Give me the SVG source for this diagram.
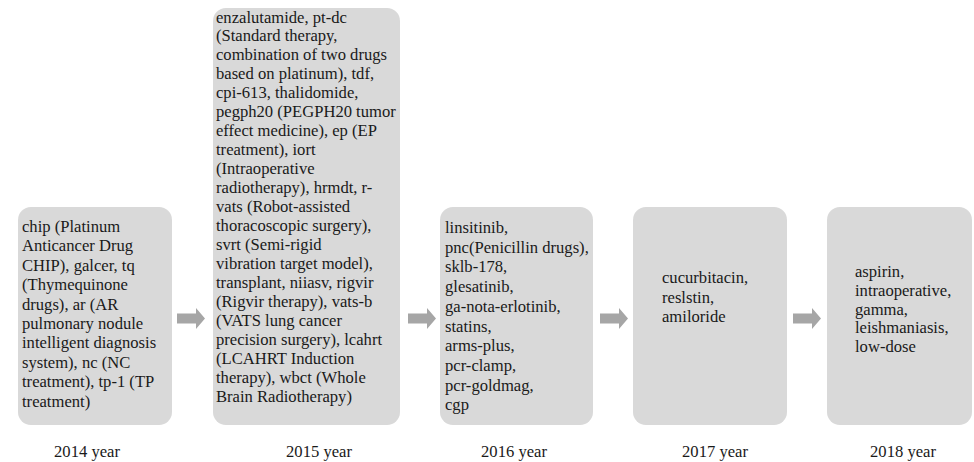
<svg xmlns="http://www.w3.org/2000/svg" width="974" height="462" viewBox="0 0 974 462">
<style>
.box{fill:#d9d9d9;}
.arr{fill:#a6a6a6;}
text{font-family:"Liberation Serif","Times New Roman",serif;font-size:16.6px;fill:#1a1a1a;}
.yr{text-anchor:middle;}
</style>
<defs>
<path id="arrow" d="M0,-5 H19 V-10.5 L28,0 L19,10.5 V5 H0 Z"/>
</defs>
<rect width="974" height="462" fill="#ffffff"/>
<g id="node-2014">
<rect class="box" x="18" y="207" width="154" height="218" rx="13"/>
<text x="22" y="232">chip (Platinum</text>
<text x="22" y="251.4">Anticancer Drug</text>
<text x="22" y="270.8">CHIP), galcer, tq</text>
<text x="22" y="290.2">(Thymequinone</text>
<text x="22" y="309.6">drugs), ar (AR</text>
<text x="22" y="329">pulmonary nodule</text>
<text x="22" y="348.4">intelligent diagnosis</text>
<text x="22" y="367.8">system), nc (NC</text>
<text x="22" y="387.2">treatment), tp-1 (TP</text>
<text x="22" y="406.6">treatment)</text>
<text class="yr" x="87" y="457">2014 year</text>
</g>
<g id="node-2015">
<rect class="box" x="213" y="8" width="187" height="417" rx="13"/>
<text x="216" y="22.5">enzalutamide, pt-dc</text>
<text x="216" y="41.45">(Standard therapy,</text>
<text x="216" y="60.4">combination of two drugs</text>
<text x="216" y="79.35">based on platinum), tdf,</text>
<text x="216" y="98.3">cpi-613, thalidomide,</text>
<text x="216" y="117.25">pegph20 (PEGPH20 tumor</text>
<text x="216" y="136.2">effect medicine), ep (EP</text>
<text x="216" y="155.15">treatment), iort</text>
<text x="216" y="174.1">(Intraoperative</text>
<text x="216" y="193.05">radiotherapy), hrmdt, r-</text>
<text x="216" y="212">vats (Robot-assisted</text>
<text x="216" y="230.95">thoracoscopic surgery),</text>
<text x="216" y="249.9">svrt (Semi-rigid</text>
<text x="216" y="268.85">vibration target model),</text>
<text x="216" y="287.8">transplant, niiasv, rigvir</text>
<text x="216" y="306.75">(Rigvir therapy), vats-b</text>
<text x="216" y="325.7">(VATS lung cancer</text>
<text x="216" y="344.65">precision surgery), lcahrt</text>
<text x="216" y="363.6">(LCAHRT Induction</text>
<text x="216" y="382.55">therapy), wbct (Whole</text>
<text x="216" y="401.5">Brain Radiotherapy)</text>
<text class="yr" x="319" y="457">2015 year</text>
</g>
<g id="node-2016">
<rect class="box" x="440" y="207" width="153" height="218" rx="13"/>
<text x="445" y="233">linsitinib,</text>
<text x="445" y="252.7">pnc(Penicillin drugs),</text>
<text x="445" y="272.4">sklb-178,</text>
<text x="445" y="292.1">glesatinib,</text>
<text x="445" y="311.8">ga-nota-erlotinib,</text>
<text x="445" y="331.5">statins,</text>
<text x="445" y="351.2">arms-plus,</text>
<text x="445" y="370.9">pcr-clamp,</text>
<text x="445" y="390.6">pcr-goldmag,</text>
<text x="445" y="410.3">cgp</text>
<text class="yr" x="514" y="457">2016 year</text>
</g>
<g id="node-2017">
<rect class="box" x="633" y="207" width="154" height="218" rx="13"/>
<text x="662" y="283">cucurbitacin,</text>
<text x="662" y="302.5">reslstin,</text>
<text x="662" y="322">amiloride</text>
<text class="yr" x="715" y="457">2017 year</text>
</g>
<g id="node-2018">
<rect class="box" x="827" y="207" width="145" height="218" rx="13"/>
<text x="855" y="277">aspirin,</text>
<text x="855" y="295.8">intraoperative,</text>
<text x="855" y="314.6">gamma,</text>
<text x="855" y="333.4">leishmaniasis,</text>
<text x="855" y="352.2">low-dose</text>
<text class="yr" x="903" y="457">2018 year</text>
</g>
<g id="connectors">
<use href="#arrow" class="arr" x="177" y="318.5"/>
<use href="#arrow" class="arr" x="408" y="318.5"/>
<use href="#arrow" class="arr" x="600" y="318.5"/>
<use href="#arrow" class="arr" x="793" y="318.5"/>
</g>
</svg>
